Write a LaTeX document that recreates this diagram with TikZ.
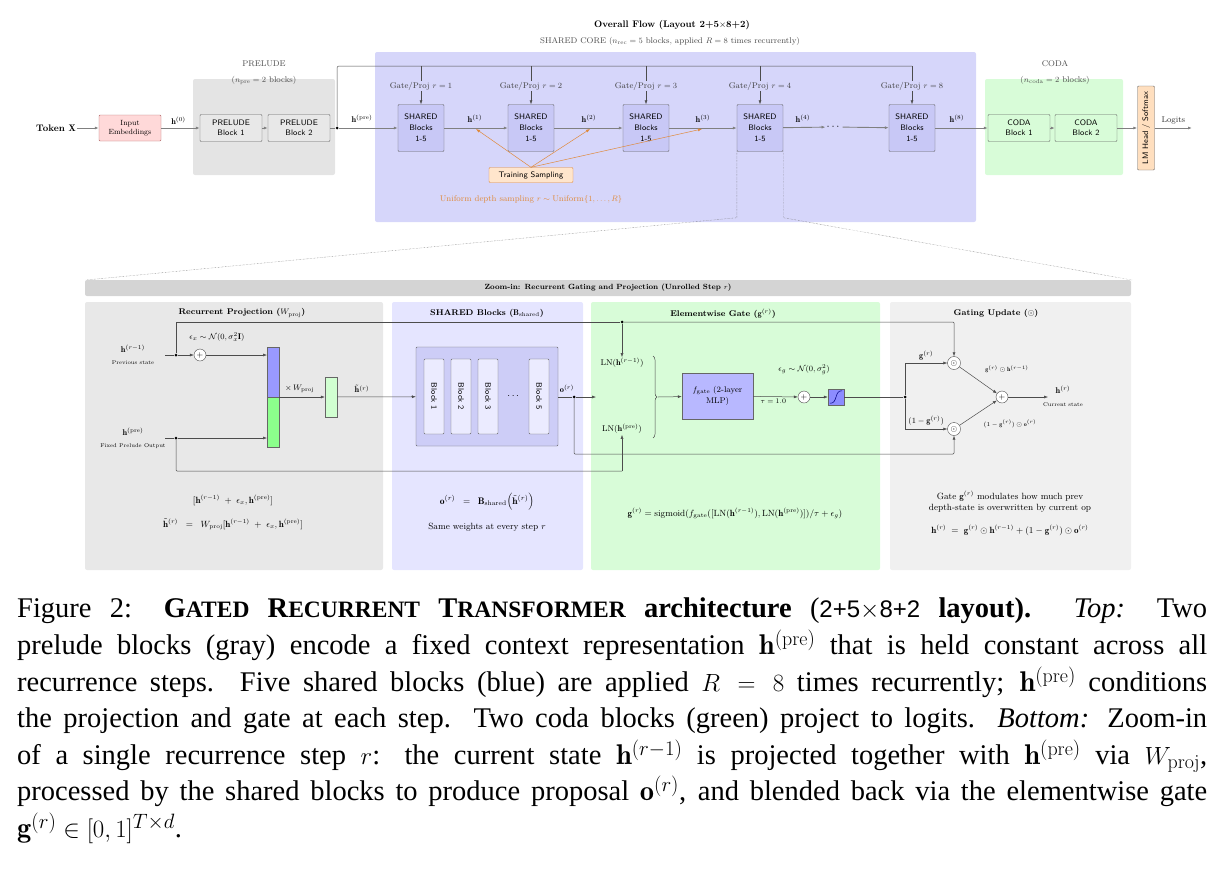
\documentclass[tikz,border=0pt]{standalone}
\usepackage{amsmath,amssymb}
\usepackage{fontspec}
\usetikzlibrary{arrows.meta,decorations.pathreplacing,calc}
\newfontfamily\capfont{Liberation Serif}
\newfontfamily\capsans{Liberation Sans}
\definecolor{prebg}{HTML}{E4E4E4}
\definecolor{corebg}{HTML}{D6D6FA}
\definecolor{codabg}{HTML}{D8FCD8}
\definecolor{shfill}{HTML}{C8C8F6}
\definecolor{orng}{HTML}{E08A3C}
\newcommand\hb{\mathbf{h}}
\newcommand\gb{\mathbf{g}}
\newcommand\ob{\mathbf{o}}
\newcommand\rr{^{(r)}}
\newcommand\rmo{^{(r-1)}}
\newcommand\pre{^{(\mathrm{pre})}}
\newcommand\fsc[2]{#1{\fontsize{23.5}{36}\selectfont #2}}
\begin{document}
\begin{tikzpicture}[x=1pt,y=-1pt,
  every node/.style={font=\fontsize{8.3}{9.5}\selectfont, inner sep=1pt},
  arr/.style={-{Latex[length=4pt,width=3pt]}, draw=black!70, line width=0.5pt},
  flow/.style={-{Latex[length=4pt,width=3pt]}, draw=black!50, line width=0.9pt},
  ln/.style={draw=black!70, line width=0.5pt},
  blk/.style={draw=black!60, rounded corners=1pt, font=\sffamily\fontsize{8}{10}\selectfont, align=center, inner sep=0pt},
  prebox/.style={blk, fill=black!9, minimum width=62pt, minimum height=27pt},
  shbox/.style={blk, fill=shfill, minimum width=46pt, minimum height=47pt},
  codabox/.style={blk, fill=codabg, minimum width=62pt, minimum height=27pt},
  panel/.style={rounded corners=2pt},
  ttl/.style={font=\bfseries\fontsize{8.3}{10}\selectfont},
  tiny/.style={font=\fontsize{5.5}{6}\selectfont},
  circ/.style={circle, draw=black!70, fill=white, minimum size=12pt, inner sep=0pt, font=\fontsize{8}{8}\selectfont},
  dotn/.style={circle, fill=black, inner sep=0pt, minimum size=3pt},
]
\useasboundingbox (0,0) rectangle (1222,886);
% ---------- TOP ----------
\node[font=\bfseries\fontsize{9.5}{11}\selectfont] (title) at (672,25) {Overall Flow (Layout 2+5$\times$8+2)};
\node[text=black!70] (subt) at (670,41) {SHARED CORE ($n_{\mathrm{rec}}=5$ blocks, applied $R=8$ times recurrently)};
\fill[prebg, panel] (193,79) rectangle (335,175);
\fill[corebg, panel] (375,52) rectangle (976,222);
\fill[codabg, panel] (985,79) rectangle (1123,175);
\node[text=black!70] (prel) at (264,64) {PRELUDE};
\node[text=black!70] (prel2) at (264,80) {($n_{\mathrm{pre}}=2$ blocks)};
\node[text=black!70] (codal) at (1055,64) {CODA};
\node[text=black!70] (codal2) at (1055,80) {($n_{\mathrm{coda}}=2$ blocks)};

\node[font=\bfseries\fontsize{9.5}{11}\selectfont] (tok) at (56,128) {Token $\mathbf{X}$};
\node[blk, fill=red!15, draw=red!50!black!60, font=\fontsize{7.5}{8.5}\selectfont, minimum width=62pt, minimum height=26pt] (emb) at (130,128) {Input\\Embeddings};
\node[prebox] (p1) at (231,128) {PRELUDE\\Block 1};
\node[prebox] (p2) at (299,128) {PRELUDE\\Block 2};
\node[dotn] (pdot) at (337,128) {};
\draw[flow] (tok) -- (emb);
\draw[flow] (emb) -- (p1) node[pos=0.45, above=2pt, text=black] {$\hb^{(0)}$};
\draw[flow] (p1) -- (p2);
\node[] (hpre) at (362,119) {$\hb\pre$};

\foreach \i/\x/\r in {1/421/1,2/531/2,3/646/3,4/760/4,5/912/8}{
  \node[shbox] (s\i) at (\x,128) {SHARED\\[1pt]Blocks\\[1pt]1-5};
  \node[text=black!75] (g\i) at (\x,86) {Gate/Proj $r=\r$};
  \coordinate (t\i) at (\x,66);
  \draw[arr] (g\i.south) -- (s\i.north);
  \draw[ln] (t\i) -- (g\i.north);
}
\draw[ln, rounded corners=2pt] (pdot) |- (t5);
\draw[flow] (p2) -- (pdot) -- (s1);
\node (h1) at (475,119) {$\hb^{(1)}$};
\node (h2) at (589,119) {$\hb^{(2)}$};
\node (h3) at (703,119) {$\hb^{(3)}$};
\node (h4) at (803,119) {$\hb^{(4)}$};
\node (h8) at (957,119) {$\hb^{(8)}$};
\draw[flow] (s1) -- (s2);
\draw[flow] (s2) -- (s3);
\draw[flow] (s3) -- (s4);
\node[font=\fontsize{11}{11}\selectfont] (dots) at (834,127) {$\cdots$};
\draw[flow] (s4) -- (dots);
\draw[flow] (dots) -- (s5);
\node[codabox] (c1) at (1019,128) {CODA\\Block 1};
\node[codabox] (c2) at (1086,128) {CODA\\Block 2};
\draw[flow] (s5) -- (c1);
\draw[flow] (c1) -- (c2);
\node[blk, fill=orange!25, draw=black!60, minimum width=84pt, minimum height=17pt, rotate=90] (lm) at (1146,128) {LM Head / Softmax};
\draw[flow] (c2) -- (lm);
\coordinate (logend) at (1192,128);
\draw[flow] (lm) -- (logend) node[pos=0.5, above=2pt, text=black!80] {Logits};
\node[blk, fill=orange!20, draw=orng, minimum width=84pt, minimum height=15pt] (ts) at (531,175) {Training Sampling};
\coordinate (e1) at (476,129);
\coordinate (e2) at (590,129);
\coordinate (e3) at (702,129);
\foreach \e in {e1,e2,e3}{\draw[-{Latex[length=4pt,width=3pt]}, orng, line width=0.5pt] (ts.north) -- (\e);}
\node[text=orng] (unif) at (531,199) {Uniform depth sampling $r\sim\mathrm{Uniform}\{1,\ldots,R\}$};
% dotted zoom lines
\coordinate (zl) at (86,280);
\coordinate (zr) at (1132,280);
\draw[densely dotted, black!60] (s4.south west) -- ++(0,66) -- (zl);
\draw[densely dotted, black!60] (s4.south east) -- ++(0,66) -- (zr);
% ---------- BOTTOM ----------
\fill[black!17, panel] (85,280) rectangle (1131,296);
\node[font=\bfseries\fontsize{7.5}{9}\selectfont] (zt) at (608,288) {Zoom-in: Recurrent Gating and Projection (Unrolled Step $r$)};
\fill[black!9, panel] (85,302) rectangle (383,570);
\fill[blue!10, panel] (392,302) rectangle (583,570);
\fill[codabg, panel] (591,302) rectangle (880,570);
\fill[black!6, panel] (890,302) rectangle (1131,570);
\node[ttl] (t1a) at (242,313) {Recurrent Projection ($W_{\mathrm{proj}}$)};
\node[ttl] (t2a) at (487,313) {SHARED Blocks ($\mathbf{B}_{\mathrm{shared}}$)};
\node[ttl] (t3a) at (723,314) {Elementwise Gate ($\gb\rr$)};
\node[ttl] (t4a) at (996,313) {Gating Update ($\odot$)};
% panel 1
\node (hr1) at (133,349) {$\hb\rmo$};
\node[tiny] (ps) at (133,363) {Previous state};
\node (hp) at (133,432) {$\hb\pre$};
\node[tiny] (fp) at (133,446) {Fixed Prelude Output};
\coordinate (a1) at (165,355);
\coordinate (a2) at (165,438);
\node[dotn] (d1) at (176,355) {};
\node[dotn] (d2) at (176,438) {};
\node[circ] (pl1) at (200,355) {$+$};
\node (eps) at (217,337) {$\epsilon_x\sim\mathcal{N}(0,\sigma_x^2\mathbf{I})$};
\fill[blue!40, draw=black!60] (267,347) rectangle (279,397);
\fill[green!45, draw=black!60] (267,397) rectangle (279,447);
\coordinate (cb1) at (267,355);
\coordinate (cb2) at (267,438);
\coordinate (cbo) at (279,397);
\draw[ln] (a1) -- (d1); \draw[ln] (a2) -- (d2);
\draw[arr] (d1) -- (pl1);
\draw[arr] (pl1) -- (cb1);
\draw[arr] (d2) -- (cb2);
\node[fill=green!18, draw=black!60, minimum width=12pt, minimum height=40pt, inner sep=0pt] (ht) at (331,397) {};
\draw[arr] (cbo) -- (ht) node[pos=0.45, above=3pt, text=black] {$\times\,W_{\mathrm{proj}}$};
\node (htl) at (362,389) {$\tilde{\hb}\rr$};
\node[draw=black!60, fill=shfill!90, minimum width=142pt, minimum height=99pt, rounded corners=1pt] (ob) at (487,396.5) {};
\foreach \i/\x/\t in {1/434/Block 1,2/461/Block 2,3/488/Block 3,5/539/Block 5}{
  \node[draw=black!60, fill=blue!8, rounded corners=1pt, minimum width=75pt, minimum height=20pt, rotate=-90, font=\sffamily\fontsize{8}{9}\selectfont] (bk\i) at (\x,396.5) {\t};
}
\node[font=\fontsize{10}{10}\selectfont] (bdots) at (514,396) {$\cdots$};
\draw[arr] (ht) -- (ob);
\node (orl) at (567,389) {$\ob\rr$};
\node[dotn] (d3) at (574,397) {};
\coordinate (brin) at (596,397);
\draw[ln] (ob.east|-d3) -- (d3);
\draw[arr] (d3) -- (brin);
% panel 3
\node (ln1) at (622,363) {LN($\hb\rmo$)};
\node (ln2) at (622,429) {LN($\hb\pre$)};
\node[dotn] (d4) at (622,322) {};
\draw[ln] (d1) |- (d4);
\draw[arr] (d4) -- (ln1);
\draw[decorate, decoration={brace, amplitude=4pt}, black!70, line width=0.5pt] (653,356) -- (653,438);
\node[draw=black!60, fill=blue!28, minimum width=71pt, minimum height=46pt, align=center, inner sep=0pt] (mlp) at (717.5,396) {$f_{\mathrm{gate}}$ (2-layer\\[2pt]MLP)};
\coordinate (brout) at (658,397);
\draw[arr] (brout) -- (mlp);
\node[circ] (pl2) at (804,397) {$+$};
\node (epsg) at (804,370) {$\epsilon_g\sim\mathcal{N}(0,\sigma_g^2)$};
\draw[arr] (mlp) -- (pl2) node[pos=0.45, below=1pt, font=\fontsize{7}{8}\selectfont] {$\tau=1.0$};
\node[draw=black!60, fill=blue!45, minimum size=16pt, inner sep=0pt] (sig) at (836,397) {};
\draw[blue!50!black, line width=0.5pt] ($(sig.south west)+(2,-2)$) .. controls ($(sig.south)+(2,-1)$) and ($(sig.north)+(-2,1)$) .. ($(sig.north east)+(-2,2)$);
\draw[arr] (pl2) -- (sig);
\node[dotn] (d5) at (905,397) {};
\draw[ln] (sig) -- (d5);
% panel 4
\node[circ, minimum size=13pt] (m1) at (954,363) {$\odot$};
\node[circ, minimum size=13pt] (m2) at (954,429) {$\odot$};
\node[circ] (pl3) at (1002,397) {$+$};
\draw[arr] (d5) |- (m1) node[pos=0.75, above=2pt, text=black] {$\gb\rr$};
\draw[arr] (d5) |- (m2) node[pos=0.75, above=2pt, text=black] {$(1-\gb\rr)$};
\draw[arr, rounded corners=1pt] (d4) -| (m1);
\draw[ln, rounded corners=1pt] (d2) |- (ln2.south|-622,471);
\draw[arr] (622,471) -- (ln2);
\draw[arr, rounded corners=1pt] (d3) |- (954,454) -- (m2);
\draw[arr] (m1) -- (pl3);
\draw[arr] (m2) -- (pl3);
\node[font=\fontsize{6}{7}\selectfont] (l1) at (1007,369) {$\gb\rr\odot\hb\rmo$};
\node[font=\fontsize{6}{7}\selectfont] (l2) at (1010,424) {$(1-\gb\rr)\odot\ob\rr$};
\coordinate (hend) at (1048,397);
\draw[arr] (pl3) -- (hend);
\node (hrl) at (1063,390) {$\hb\rr$};
\node[tiny] (cs) at (1063,405) {Current state};
% equations
\node[font=\fontsize{9}{10}\selectfont] (eq1) at (233,500) {$[\hb\rmo\;+\;\epsilon_x,\hb\pre]$};
\node[font=\fontsize{9}{10}\selectfont] (eq2) at (233,524) {$\tilde{\hb}\rr\;\;=\;\;W_{\mathrm{proj}}[\hb\rmo\;+\;\epsilon_x,\hb\pre]$};
\node[font=\fontsize{9.5}{10}\selectfont] (eq3) at (487,502) {$\ob\rr\;\;=\;\;\mathbf{B}_{\mathrm{shared}}\Big(\tilde{\hb}\rr\Big)$};
\node[font=\fontsize{9}{10}\selectfont] (eq4) at (487,527) {Same weights at every step $r$};
\node[font=\fontsize{9}{10}\selectfont] (eq5) at (735,513) {$\gb\rr=\mathrm{sigmoid}(f_{\mathrm{gate}}([\mathrm{LN}(\hb\rmo),\mathrm{LN}(\hb\pre)])/\tau+\epsilon_g)$};
\node[font=\fontsize{9}{11.5}\selectfont, align=center] (eq6) at (1010,502) {Gate $\gb\rr$ modulates how much prev\\depth-state is overwritten by current op};
\node[font=\fontsize{9}{10}\selectfont] (eq7) at (1010,530) {$\hb\rr\;=\;\gb\rr\odot\hb\rmo+(1-\gb\rr)\odot\ob\rr$};
% ---------- CAPTION ----------
\node[anchor=north west, text width=1190pt, align=justify, inner sep=0pt, font=\capfont\fontsize{28.5}{36.6}\selectfont] (cap) at (17,598) {%
Figure 2: {\bfseries\fsc{G}{ATED} \fsc{R}{ECURRENT} \fsc{T}{RANSFORMER} architecture} ({\capsans\fontsize{24}{30}\selectfont 2+5$\times$8+2} {\bfseries layout).} \emph{Top:} Two\linebreak
prelude blocks (gray) encode a fixed context representation $\hb\pre$ that is held constant across all\linebreak
recurrence steps. Five shared blocks (blue) are applied $R=8$ times recurrently; $\hb\pre$ conditions\linebreak
the projection and gate at each step. Two coda blocks (green) project to logits. \emph{Bottom:} Zoom-in\linebreak
of a single recurrence step $r$: the current state $\hb\rmo$ is projected together with $\hb\pre$ via $W_{\mathrm{proj}}$,\linebreak
processed by the shared blocks to produce proposal $\ob\rr$, and blended back via the elementwise gate\linebreak
$\gb\rr\in[0,1]^{T\times d}$.};
\end{tikzpicture}
\end{document}
